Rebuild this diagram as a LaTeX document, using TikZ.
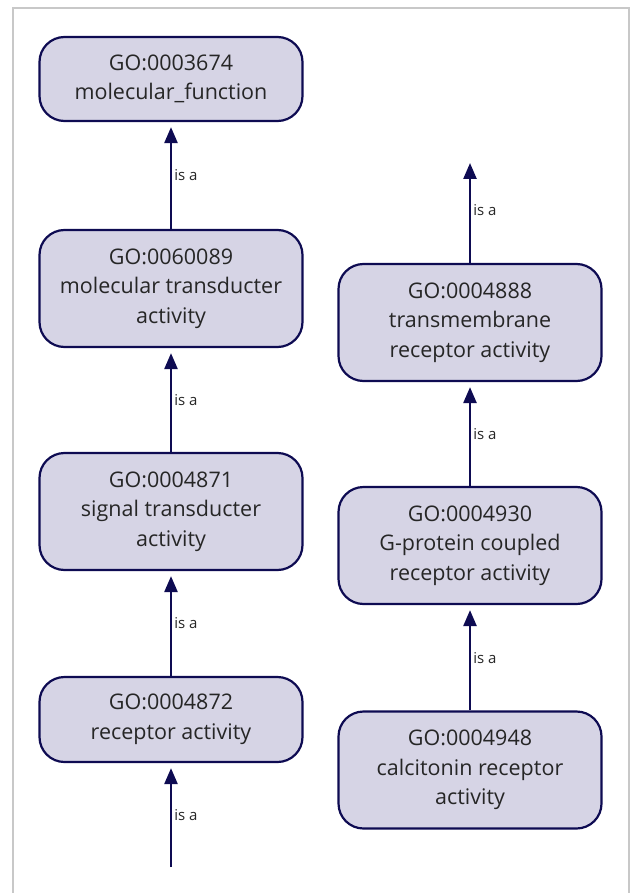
\documentclass[tikz,border=0pt]{standalone}
\usepackage{fontspec}
\setmainfont{Open Sans}
\usetikzlibrary{arrows.meta}
\definecolor{goline}{HTML}{0E0B52}
\definecolor{gofill}{HTML}{D6D4E5}
\definecolor{gotext}{HTML}{262626}
\definecolor{frame}{HTML}{C8C8C8}
\tikzstyle{every node}=[text=gotext]
\tikzset{
	term/.style={draw=goline, line width=2.2pt, fill=gofill, rounded corners=25pt,
		minimum width=263pt, align=center, font=\fontsize{21.5}{29.5}\selectfont, inner sep=0pt},
	isa/.style={-{Triangle[length=16pt,width=13pt]}, draw=goline, line width=2.5pt, shorten >=5pt},
	lbl/.style={right, font=\fontsize{15}{16}\selectfont, inner sep=2pt}
}
\begin{document}
\begin{tikzpicture}[x=1pt, y=-1pt]
	\useasboundingbox (0,0) rectangle (630,893);
	% frame
	\draw[frame, line width=2pt] (13,893) -- (13,8) -- (629,8) -- (629,893);
	
	% left column
	\node[term, minimum height=84pt] (mf) at (171,79) {GO:0003674\\molecular\_function};
	\node[term, minimum height=117pt] (mt) at (171,288.5) {GO:0060089\\molecular transducter\\activity};
	\node[term, minimum height=117pt] (st) at (171,511.5) {GO:0004871\\signal transducter\\activity};
	\node[term, minimum height=85pt] (ra) at (171,719.5) {GO:0004872\\receptor activity};
	\coordinate (lbot) at (171,867);
	
	% right column
	\coordinate (rtop) at (470,158);
	\node[term, minimum height=117pt] (tm) at (470,322.5) {GO:0004888\\transmembrane\\receptor activity};
	\node[term, minimum height=117pt] (gp) at (470,545.5) {GO:0004930\\G-protein coupled\\receptor activity};
	\node[term, minimum height=117pt] (cr) at (470,770) {GO:0004948\\calcitonin receptor\\activity};
	
	% is a
	\draw[isa] (mt) -- (mf) node[lbl, midway] {is a};
	\draw[isa] (st) -- (mt) node[lbl, midway] {is a};
	\draw[isa] (ra) -- (st) node[lbl, midway] {is a};
	\draw[isa] (lbot) -- (ra) node[lbl, midway] {is a};
	\draw[isa] (tm) -- (rtop) node[lbl, midway] {is a};
	\draw[isa] (gp) -- (tm) node[lbl, midway] {is a};
	\draw[isa] (cr) -- (gp) node[lbl, midway] {is a};
\end{tikzpicture}
\end{document}
